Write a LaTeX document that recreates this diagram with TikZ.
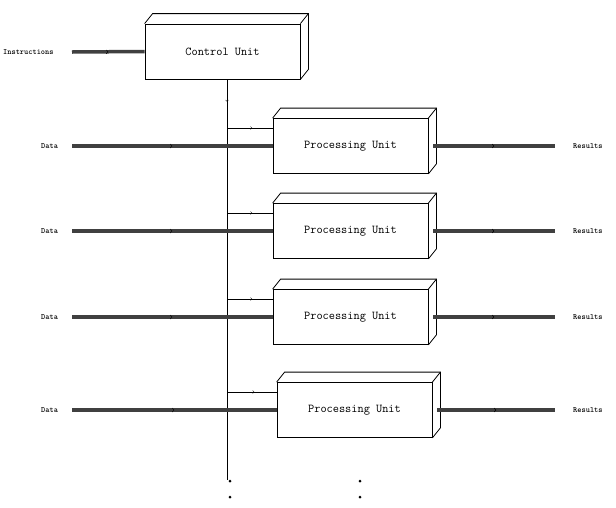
\documentclass[tikz,border=0pt]{standalone}
\usepackage{tikz}
\usetikzlibrary{arrows, positioning, calc, decorations.markings}

\begin{document}
\begin{tikzpicture}[x=1pt, y=-1pt]
                \tikzstyle{unit} = [draw, thick, fill=white, minimum width=155pt, minimum height=55pt, font=\ttfamily\large, inner sep=0pt]
                \tikzstyle{lbl} = [font=\ttfamily\bfseries\footnotesize, inner sep=1pt]
                \tikzstyle{bus} = [draw, line width=3.5pt, black!75, postaction={decorate}, decoration={markings, mark=at position 0.5 with {\arrow[black, line width=0.6pt]{to}}}]
                \tikzstyle{ctrl} = [draw, thin, postaction={decorate}, decoration={markings, mark=at position 0.55 with {\arrow{to}}}]
                \useasboundingbox (0,0) rectangle (616,507);

                % control unit
                \node[unit] (cu) at (222.5,51.5) {Control Unit};
                \draw[thick] (cu.north west) -- ++(8,-10) -- ($(cu.north east)+(8,-10)$) -- ($(cu.south east)+(8,-10)$) -- (cu.south east);
                \draw[thick] (cu.north east) -- ++(8,-10);
                \node[lbl, anchor=west] (ins) at (2,52) {Instructions};
                \coordinate (i0) at (72,52);
                \draw[bus] (i0) -- (cu.west);

                % bus line
                \coordinate (top) at (227,79);
                \coordinate (bot) at (227,480);
                \draw[ctrl] (top) -- (227,120);
                \draw[thin] (227,118) -- (bot);

                % processing units
                \foreach \i/\y/\dx in {1/146/0, 2/231/0, 3/317/0, 4/410/4} {
                    \node[unit] (pu\i) at (350.5+\dx,\y) {Processing Unit};
                    \draw[thick] (pu\i.north west) -- ++(8,-10) -- ($(pu\i.north east)+(8,-10)$) -- ($(pu\i.south east)+(8,-10)$) -- (pu\i.south east);
                    \draw[thick] (pu\i.north east) -- ++(8,-10);
                    \node[lbl, anchor=west] (data\i) at (40,\y) {Data};
                    \node[lbl, anchor=west] (res\i) at (572,\y) {Results};
                    \coordinate (d\i) at (72,\y);
                    \coordinate (r\i) at (555,\y);
                    \draw[bus] (d\i) -- (pu\i.west);
                    \draw[bus] ($(pu\i.east)+(5,0)$) -- (r\i);
                    \coordinate (b\i) at (227,\y-18);
                    \draw[ctrl] (b\i) -- (b\i -| pu\i.west);
                }

                % continuation dots
                \foreach \px in {230,360} {
                    \fill (\px,481) circle (1.5);
                    \fill (\px,497) circle (1.5);
                }
            \end{tikzpicture}
\end{document}
